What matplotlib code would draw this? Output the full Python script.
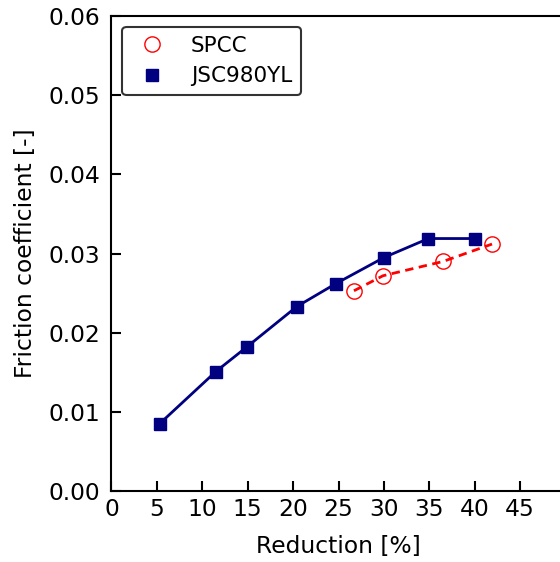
import numpy as np
import matplotlib
matplotlib.use("Agg")
import matplotlib.pyplot as plt

# reduction [%] and friction coefficient [-]
spcc_x = [26.7, 29.9, 36.5, 41.9]
spcc_y = [0.0253, 0.0272, 0.0290, 0.0312]

jsc_x = [5.3, 11.5, 14.9, 20.4, 24.7, 30.0, 34.9, 40.0]
jsc_y = [0.0085, 0.0151, 0.0182, 0.0233, 0.0262, 0.0295, 0.0319, 0.0319]

x_ticks = [0, 5, 10, 15, 20, 25, 30, 35, 40, 45]
y_ticks = [0.00, 0.01, 0.02, 0.03, 0.04, 0.05, 0.06]

plt.rcParams['font.size'] = 16.8

fig = plt.figure(figsize=(5.6, 5.62), dpi=100)
ax = fig.add_axes([0.199, 0.1263, 0.811, 0.845])

# lines
ax.plot(jsc_x, jsc_y, '-', color='navy', lw=2)
ax.plot(spcc_x, spcc_y, '--', color='red', lw=2, dashes=(3, 2))
# markers (legend uses markers only)
ax.plot(spcc_x, spcc_y, ls='none', marker='o', ms=11, mfc='none',
        mec='red', mew=1.0, label='SPCC')
ax.plot(jsc_x, jsc_y, ls='none', marker='s', ms=8.5, color='navy',
        label='JSC980YL')

ax.set_xlim(0, 50)
ax.set_ylim(0, 0.06)
ax.set_xticks(x_ticks)
ax.set_yticks(y_ticks)
ax.set_yticklabels(['%.2f' % v for v in y_ticks])
ax.tick_params(direction='in', length=7, width=1.5)
ax.tick_params(axis='y', pad=8)
ax.tick_params(axis='x', pad=5)
for s in ax.spines.values():
    s.set_linewidth(1.5)

ax.set_xlabel('Reduction [%]', labelpad=10)
ax.set_ylabel('Friction coefficient [-]', labelpad=8)

leg = ax.legend(loc='upper left', fancybox=True, framealpha=1,
                edgecolor='#333333', borderaxespad=0.5, fontsize=15.5)
leg.get_frame().set_linewidth(1.5)

fig.savefig('out.png', dpi=100)
